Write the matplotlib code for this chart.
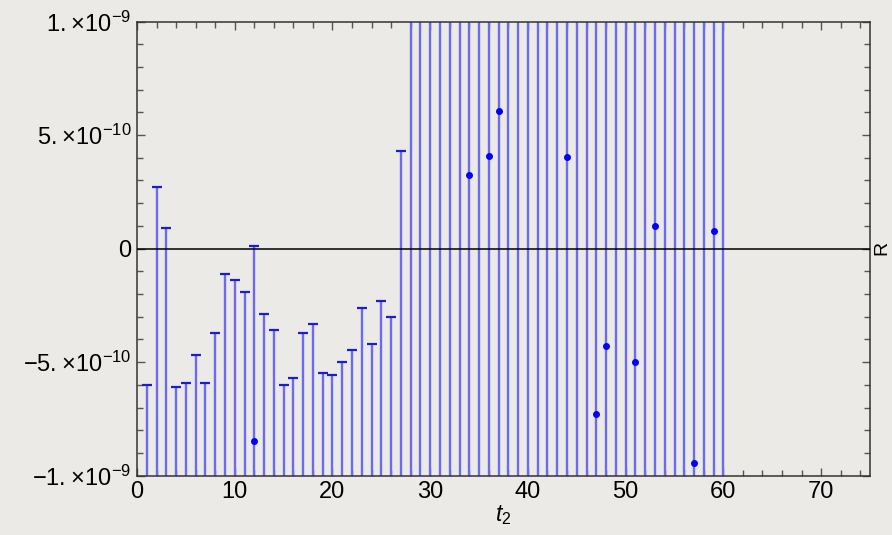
import numpy as np
import matplotlib.pyplot as plt
import matplotlib.ticker as ticker

plt.rcParams['font.family'] = ['Liberation Sans', 'DejaVu Sans']
plt.rcParams['mathtext.fontset'] = 'custom'
plt.rcParams['mathtext.rm'] = 'Liberation Sans'
plt.rcParams['mathtext.it'] = 'Liberation Sans:italic'

# time slices 1..60
t = np.arange(1, 61)

# upper end of each error bar (units of 1e-9); past 27 they run off the top
upper_1_27 = [-0.60, 0.27, 0.09, -0.61, -0.59, -0.47, -0.59, -0.37, -0.11,
              -0.14, -0.19, 0.01, -0.29, -0.36, -0.60, -0.57, -0.37, -0.33,
              -0.55, -0.555, -0.50, -0.445, -0.26, -0.42, -0.23, -0.30, 0.43]
upper = np.array(upper_1_27 + [3.0] * 33)
# lower ends all run off the bottom
lower = np.full(60, -3.0)

# central values that fall inside the window
pt_t = [12, 34, 36, 37, 44, 47, 48, 51, 53, 57, 59]
pt_val = [-0.847, 0.325, 0.41, 0.605, 0.405, -0.73, -0.43, -0.50, 0.10, -0.943, 0.076]

scale = 1e-9
bg = '#ebeae6'

fig = plt.figure(figsize=(8.92, 5.35), dpi=100, facecolor=bg)
ax = fig.add_axes([0.1536, 0.111, 0.8217, 0.8487], facecolor=bg)

ax.vlines(t, lower * scale, upper * scale, color='#6a6af2', lw=1.7, zorder=2)
ax.plot(t, upper * scale, ls='none', marker='_', ms=6.5, mew=1.6,
        color='#1c1cd6', zorder=3)
ax.plot(pt_t, np.array(pt_val) * scale, ls='none', marker='o', ms=4,
        color='#0000ff', zorder=4)

ax.axhline(0, color='black', lw=1.1, zorder=5)

ax.set_xlim(0, 75)
ax.set_ylim(-1e-9, 1e-9)

ax.xaxis.set_major_locator(ticker.MultipleLocator(10))
ax.xaxis.set_minor_locator(ticker.MultipleLocator(2))
ax.set_yticks([-1e-9, -5e-10, 0, 5e-10, 1e-9])
ax.set_yticklabels([r'$-1.\!\times\!10^{-9}$', r'$-5.\!\times\!10^{-10}$', '0',
                    r'$5.\!\times\!10^{-10}$', r'$1.\!\times\!10^{-9}$'])
ax.yaxis.set_minor_locator(ticker.MultipleLocator(1e-10))

ax.tick_params(which='both', direction='in', top=True, right=True,
               color='#555555', labelsize=17, pad=4)
ax.tick_params(which='major', length=6, width=1)
ax.tick_params(which='minor', length=4, width=1)
for s in ax.spines.values():
    s.set_color('#333333')
    s.set_linewidth(1.1)

ax.set_xlabel(r'$t_2$', fontsize=16.5, labelpad=0)
fig.text(0.979, 0.537, 'R', rotation=90, fontsize=14, ha='left', va='center')

fig.savefig('out.png', dpi=100, facecolor=bg)
